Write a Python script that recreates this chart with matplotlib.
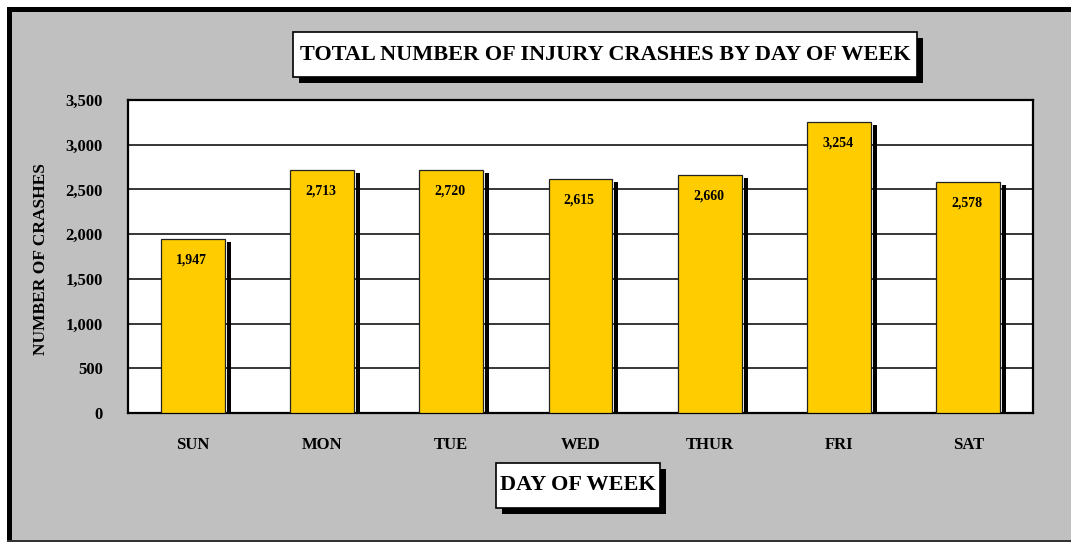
import matplotlib.pyplot as plt
from matplotlib.patches import Rectangle

days = ['SUN', 'MON', 'TUE', 'WED', 'THUR', 'FRI', 'SAT']
crashes = [1947, 2713, 2720, 2615, 2660, 3254, 2578]
yticks = [0, 500, 1000, 1500, 2000, 2500, 3000, 3500]

W, H = 1071, 542
plt.rcParams['font.family'] = ['Liberation Serif', 'DejaVu Serif']
plt.rcParams['font.weight'] = 'bold'

fig = plt.figure(figsize=(W / 100, H / 100), dpi=100)
fig.patch.set_facecolor('white')

def px(x, y, w, h):
    # pixel box (top-left origin) -> figure coords
    return (x / W, 1 - (y + h) / H), w / W, h / H

# gray background panel with black frame
xy, w, h = px(7, 7, W - 7, H - 8)
fig.patches.append(Rectangle(xy, w, h, transform=fig.transFigure, facecolor='#c0c0c0', edgecolor='none', zorder=0))
xy, w, h = px(7, 7, 5, H - 8)
fig.patches.append(Rectangle(xy, w, h, transform=fig.transFigure, facecolor='black', edgecolor='none', zorder=1))
xy, w, h = px(7, 7, W - 7, 5)
fig.patches.append(Rectangle(xy, w, h, transform=fig.transFigure, facecolor='black', edgecolor='none', zorder=1))
xy, w, h = px(7, H - 2, W - 7, 1.5)
fig.patches.append(Rectangle(xy, w, h, transform=fig.transFigure, facecolor='#333333', edgecolor='none', zorder=1))

ax = fig.add_axes([128 / W, 1 - 413 / H, 905 / W, 313 / H])
ax.set_zorder(5)
ax.set_facecolor('white')
x = range(len(days))

# shadows
ax.bar([i + 0.278 for i in x], [v - 33 for v in crashes], width=0.031, color='black', zorder=2)
ax.bar(x, crashes, width=0.495, color='#ffcc00', edgecolor='#222222', linewidth=0.9, zorder=3)

for i, v in zip(x, crashes):
    ax.annotate(f'{v:,}', (i, v), xytext=(-1, -15), textcoords='offset points',
                ha='center', va='center', fontsize=10, fontweight='bold', zorder=4)

ax.set_xlim(-0.5, len(days) - 0.5)
ax.set_ylim(0, 3500)
ax.set_yticks(yticks)
ax.set_yticklabels([f'{t:,}' for t in yticks], fontsize=12, fontweight='bold')
ax.set_xticks(list(x))
ax.set_xticklabels(days, fontsize=12, fontweight='bold')
ax.tick_params(axis='y', length=0, pad=18)
ax.tick_params(axis='x', length=0, pad=17)
ax.yaxis.grid(True, color='black', linewidth=1.1)
ax.set_axisbelow(True)
for s in ax.spines.values():
    s.set_linewidth(1.6)
    s.set_color('black')

fig.text(41 / W, 1 - 259 / H, 'NUMBER OF CRASHES', rotation=90, ha='center', va='center',
         fontsize=12.5, fontweight='bold')

# title and x label boxes with drop shadows
def box(x0, y0, x1, y1, text, size):
    xy, w, h = px(x0 + 6, y0 + 6, x1 - x0, y1 - y0)
    fig.patches.append(Rectangle(xy, w, h, transform=fig.transFigure, facecolor='black', edgecolor='none', zorder=2))
    xy, w, h = px(x0, y0, x1 - x0, y1 - y0)
    fig.patches.append(Rectangle(xy, w, h, transform=fig.transFigure, facecolor='white', edgecolor='black', linewidth=1.2, zorder=3))
    fig.text((x0 + x1) / 2 / W, 1 - (y0 + y1) / 2 / H, text, ha='center', va='center',
             fontsize=size, fontweight='bold', zorder=4)

box(293, 32, 917, 77, 'TOTAL NUMBER OF INJURY CRASHES BY DAY OF WEEK', 16)
box(496, 463, 660, 508, 'DAY OF WEEK', 16)

fig.savefig('out.png', dpi=100)
